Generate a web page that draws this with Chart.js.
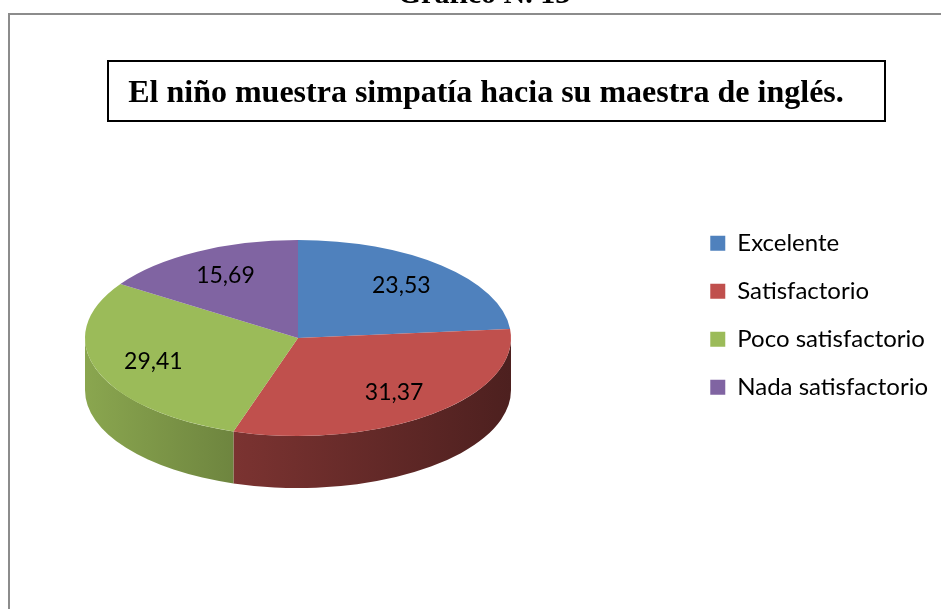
<!DOCTYPE html>
<html>
<head>
<meta charset="utf-8">
<script src="https://cdn.jsdelivr.net/npm/chart.js@4.4.0/dist/chart.umd.min.js"></script>
<style>
  html, body { margin: 0; padding: 0; background: #fff; }
  #wrap { position: relative; width: 941px; height: 609px; }
</style>
</head>
<body>
<div id="wrap"><canvas id="myPieChart" width="941" height="609"></canvas></div>
<script>
// Data
var categories = ['Excelente', 'Satisfactorio', 'Poco satisfactorio', 'Nada satisfactorio'];
var percentValues = [23.53, 31.37, 29.41, 15.69];
var sliceColors = ['#4f81bd', '#c0504d', '#9bbb59', '#8064a2'];
var chartTitle = 'El niño muestra simpatía hacia su maestra de inglés.';
var pageHeading = 'Gráfico N. 13';

// look of the fake 3D pie (screen pixels)
var PIE_X = 298, PIE_Y = 338, PIE_RX = 213, PIE_RY = 98, PIE_DEPTH = 52;
// wall shading: [left factor, right factor] per slice
var wallShade = [[0.64, 0.4], [0.64, 0.4], [0.89, 0.71], [0.64, 0.4]];

function darker(hex, f) {
  var n = parseInt(hex.slice(1), 16);
  var r = Math.round(((n >> 16) & 255) * f);
  var g = Math.round(((n >> 8) & 255) * f);
  var b = Math.round((n & 255) * f);
  return 'rgb(' + r + ',' + g + ',' + b + ')';
}

// frame, cut-off heading and title box
var decoPlugin = {
  id: 'deco',
  beforeDraw: function (chart) {
    var ctx = chart.ctx;
    ctx.save();
    ctx.fillStyle = '#fff';
    ctx.fillRect(0, 0, chart.width, chart.height);
    ctx.font = 'bold 30px "Liberation Serif"';
    ctx.fillStyle = '#000';
    ctx.textAlign = 'center';
    ctx.textBaseline = 'alphabetic';
    ctx.fillText(pageHeading, 484, 3);
    ctx.strokeStyle = '#8c8c8c';
    ctx.lineWidth = 2;
    ctx.strokeRect(9, 14, chart.width + 20, chart.height + 20);
    ctx.restore();
  },
  afterDraw: function (chart) {
    var ctx = chart.ctx;
    ctx.save();
    ctx.strokeStyle = '#000';
    ctx.lineWidth = 2;
    ctx.strokeRect(108, 61, 777, 60);
    ctx.restore();
  }
};

// squash the pie into an ellipse and give it a side wall
var pie3dPlugin = {
  id: 'pie3d',
  beforeDatasetsDraw: function (chart) {
    var ctx = chart.ctx;
    var meta = chart.getDatasetMeta(0);
    var c = meta.data[0];
    ctx.save();
    // side walls (front half only: angles 0..PI)
    meta.data.forEach(function (arc, i) {
      var a = Math.max(arc.startAngle, 0);
      var b = Math.min(arc.endAngle, Math.PI);
      if (b <= a) return;
      var xa = PIE_X + PIE_RX * Math.cos(a);
      var xb = PIE_X + PIE_RX * Math.cos(b);
      var grad = ctx.createLinearGradient(Math.min(xa, xb), 0, Math.max(xa, xb), 0);
      grad.addColorStop(0, darker(sliceColors[i], wallShade[i][0]));
      grad.addColorStop(1, darker(sliceColors[i], wallShade[i][1]));
      ctx.beginPath();
      ctx.ellipse(PIE_X, PIE_Y, PIE_RX, PIE_RY, 0, a, b, false);
      ctx.ellipse(PIE_X, PIE_Y + PIE_DEPTH, PIE_RX, PIE_RY, 0, b, a, true);
      ctx.closePath();
      ctx.fillStyle = grad;
      ctx.fill();
    });
    var sx = PIE_RX / c.outerRadius, sy = PIE_RY / c.outerRadius;
    ctx.translate(PIE_X, PIE_Y);
    ctx.scale(sx, sy);
    ctx.translate(-c.x, -c.y);
  },
  afterDatasetsDraw: function (chart) {
    var ctx = chart.ctx;
    ctx.restore();
    var meta = chart.getDatasetMeta(0);
    ctx.save();
    ctx.font = '23px Lato';
    ctx.fillStyle = '#000';
    ctx.textAlign = 'center';
    ctx.textBaseline = 'middle';
    meta.data.forEach(function (arc, i) {
      var mid = (arc.startAngle + arc.endAngle) / 2;
      var x = PIE_X + PIE_RX * 0.72 * Math.cos(mid);
      var y = PIE_Y + PIE_RY * 0.72 * Math.sin(mid);
      ctx.fillText(percentValues[i].toFixed(2).replace('.', ','), x, y);
    });
    ctx.restore();
  }
};

var ctx = document.getElementById('myPieChart').getContext('2d');
var myPieChart = new Chart(ctx, {
  type: 'pie',
  data: {
    labels: categories,
    datasets: [{
      data: percentValues,
      backgroundColor: sliceColors,
      borderWidth: 0
    }]
  },
  options: {
    responsive: false,
    animation: false,
    devicePixelRatio: 1,
    events: [],
    layout: {
      padding: { left: 34, right: 3, top: 0, bottom: 102 }
    },
    plugins: {
      title: {
        display: true,
        text: chartTitle,
        color: '#000',
        font: { family: 'Liberation Serif', size: 32, weight: 'bold' },
        padding: { top: 75, bottom: 10 }
      },
      legend: {
        position: 'right',
        fullSize: false,
        labels: {
          color: '#000',
          font: { family: 'Lato', size: 24 },
          boxWidth: 15,
          boxHeight: 15,
          padding: 24
        }
      },
      tooltip: { enabled: false }
    }
  },
  plugins: [decoPlugin, pie3dPlugin]
});
</script>
</body>
</html>
